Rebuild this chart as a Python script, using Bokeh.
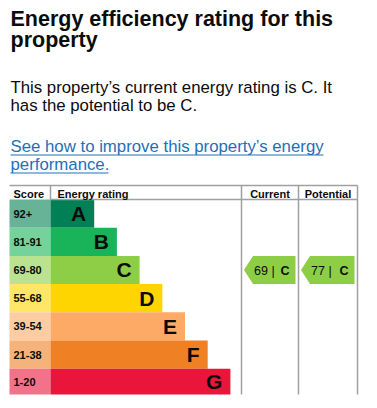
from bokeh.plotting import figure
from bokeh.models import Range1d
from bokeh.core.properties import value
from bokeh.embed import file_html
from bokeh.resources import INLINE

# ---- data ----
title_lines = ["Energy efficiency rating for this", "property"]
body_lines = ["This property\u2019s current energy rating is C. It", "has the potential to be C."]
link_lines = ["See how to improve this property\u2019s energy", "performance."]
bands = ["A", "B", "C", "D", "E", "F", "G"]
score_labels = ["92+", "81-91", "69-80", "55-68", "39-54", "21-38", "1-20"]
band_min = [92, 81, 69, 55, 39, 21, 1]
band_colors = ["#008054", "#19b459", "#8dce46", "#ffd500", "#fcaa65", "#ef8023", "#e9153b"]
header_labels = ["Score", "Energy rating", "Current", "Potential"]
current_score = 69
potential_score = 77

# ---- layout ----
W, H = 377, 408
FONT = "Liberation Sans"
TXT = "#0b0c0c"
LINK = "#1d70b8"
GRID = "#a0a0a0"

table_left, score_right, rating_right, current_right, table_right = 9, 50, 241, 298, 357
table_top, header_bottom, table_bottom = 185, 199, 394
row_h = 28.2
bar_base, bar_step = 71, 22.7


def mid(baseline, size):
    # convert an alphabetic baseline to the em-box middle used with text_baseline="middle"
    return baseline - 0.36 * size


def tint(hexc, a=0.6):
    r, g, b = int(hexc[1:3], 16), int(hexc[3:5], 16), int(hexc[5:7], 16)
    f = lambda c: int(round(c * a + 255 * (1 - a)))
    return "#%02x%02x%02x" % (f(r), f(g), f(b))


def band_index(score):
    for i, m in enumerate(band_min):
        if score >= m:
            return i
    return len(band_min) - 1


p = figure(width=W, height=H, x_range=Range1d(0, W), y_range=Range1d(H, 0),
           output_backend="svg", toolbar_location=None, min_border=0,
           x_axis_location=None, y_axis_location=None)
p.grid.visible = False
p.outline_line_color = None
p.background_fill_color = "white"
p.border_fill_color = "white"

# ---- heading texts ----
p.text(x=[10, 10], y=[mid(26, 21.5), mid(47, 21.5)], text=title_lines, text_font=value(FONT),
       text_font_size=value("21.5px"), text_font_style="bold", text_color=TXT,
       text_baseline="middle")
p.text(x=[10, 10], y=[mid(93, 16.8), mid(111, 16.8)], text=body_lines, text_font=value(FONT),
       text_font_size=value("16.8px"), text_color=TXT, text_baseline="middle")
p.text(x=[10, 10], y=[mid(152, 16.8), mid(170, 16.8)], text=link_lines, text_font=value(FONT),
       text_font_size=value("16.8px"), text_color=LINK, text_baseline="middle")
p.segment(x0=[10, 10], y0=[154.5, 172.5], x1=[323, 108], y1=[154.5, 172.5],
          line_color=LINK, line_width=1)

# ---- bands ----
n = len(bands)
tops = [header_bottom + row_h * i for i in range(n)]
bottoms = [min(t + row_h, table_bottom) for t in tops]
centers = [(t + b) / 2 for t, b in zip(tops, bottoms)]
bar_right = [bar_base + bar_step * (i + 1) for i in range(n)]

p.quad(left=[table_left] * n, right=[score_right] * n, top=tops, bottom=bottoms,
       fill_color=[tint(c) for c in band_colors], line_color=None)
p.quad(left=[score_right] * n, right=bar_right, top=tops, bottom=bottoms,
       fill_color=band_colors, line_color=None)

p.text(x=[13] * n, y=[mid(c + 4, 11) for c in centers], text=score_labels, text_font=value(FONT),
       text_font_size=value("11px"), text_font_style="bold", text_color=TXT,
       text_baseline="middle")
p.text(x=[r - 8 for r in bar_right], y=[mid(c + 7.5, 21) for c in centers], text=bands,
       text_font=value(FONT), text_font_size=value("21px"), text_font_style="bold",
       text_color=TXT, text_baseline="middle", text_align="right")

# ---- table lines ----
p.segment(x0=[table_left, score_right, rating_right, current_right, table_right, score_right],
          y0=[table_top, table_top, table_top, table_top, table_top, header_bottom],
          x1=[table_right, score_right, rating_right, current_right, table_right, table_right],
          y1=[table_top, header_bottom, table_bottom, table_bottom, table_bottom, header_bottom],
          line_color=GRID, line_width=1.5)

# ---- header texts ----
p.text(x=[13, 57], y=[mid(197, 11)] * 2, text=header_labels[:2], text_font=value(FONT),
       text_font_size=value("11px"), text_font_style="bold", text_color=TXT,
       text_baseline="middle")
p.text(x=[(rating_right + current_right) / 2, (current_right + table_right) / 2],
       y=[mid(197, 11)] * 2, text=header_labels[2:], text_font=value(FONT),
       text_font_size=value("11px"), text_font_style="bold", text_color=TXT,
       text_baseline="middle", text_align="center")

# ---- arrows ----
cols = [(rating_right, current_right), (current_right, table_right)]
scores = [current_score, potential_score]
xs, ys, fills, num_x, num_y, num_t, let_x, let_t = [], [], [], [], [], [], [], []
for (cl, cr), s in zip(cols, scores):
    i = band_index(s)
    left, right = cl + 2.5, cr - 3
    body = left + 9
    t, b, c = tops[i], bottoms[i], centers[i]
    xs.append([left, body, right, right, body])
    ys.append([c, t, t, b, b])
    fills.append(band_colors[i])
    num_x.append(left + 10)
    num_y.append(mid(c + 5, 12.5))
    num_t.append("%d |" % s)
    let_x.append(right - 6)
    let_t.append(bands[i])

p.patches(xs=xs, ys=ys, fill_color=fills, line_color=None)
p.text(x=num_x, y=num_y, text=num_t, text_font=value(FONT), text_font_size=value("12.5px"),
       text_color=TXT, text_baseline="middle")
p.text(x=let_x, y=num_y, text=let_t, text_font=value(FONT), text_font_size=value("12.5px"),
       text_font_style="bold", text_color=TXT, text_baseline="middle", text_align="right")

open("out.html", "w").write(file_html(p, INLINE))
